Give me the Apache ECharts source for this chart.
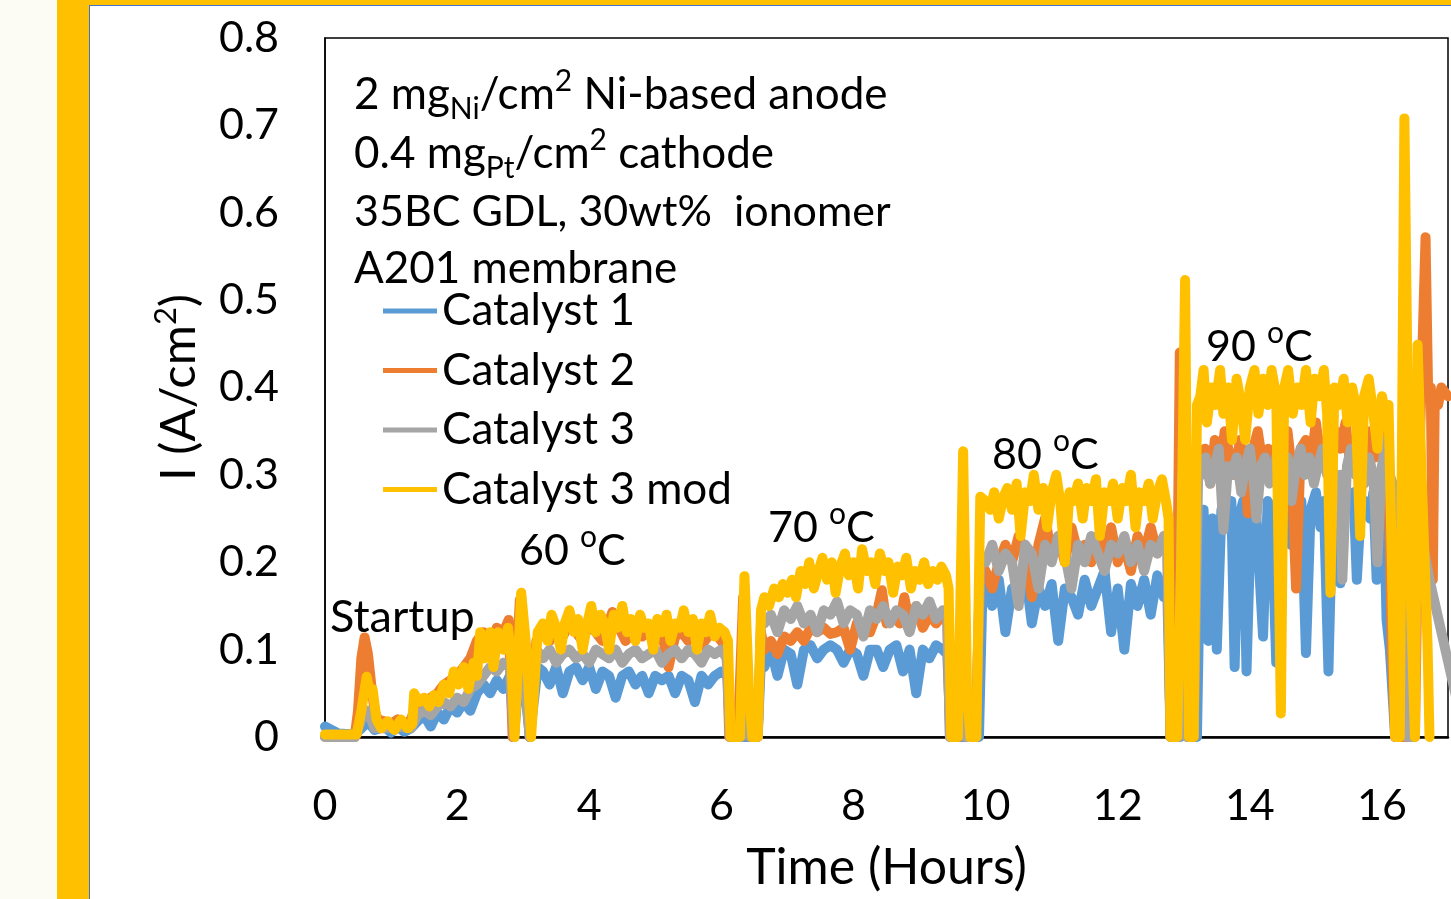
<!DOCTYPE html>
<html>
<head>
<meta charset="utf-8">
<script src="https://cdn.jsdelivr.net/npm/echarts@6/dist/echarts.min.js"></script>
<style>
  html, body { margin: 0; padding: 0; width: 1451px; height: 899px; overflow: hidden; background: #fcfbf4; }
  #frame { position: absolute; left: 57px; top: 0; width: 1394px; height: 899px; background: #ffc000; }
  #inner { position: absolute; left: 89px; top: 5px; width: 1362px; height: 894px; background: #fff; border-left: 1px solid #4472c4; border-top: 1px solid #4472c4; box-sizing: border-box; }
  #chart { position: absolute; left: 0; top: 0; width: 1451px; height: 899px; }
</style>
</head>
<body>
<div id="frame"></div>
<div id="inner"></div>
<div id="chart"></div>
<script>
const seriesNames = ['Catalyst 1', 'Catalyst 2', 'Catalyst 3', 'Catalyst 3 mod']
const seriesColors = ['#5b9bd5', '#ed7d31', '#a5a5a5', '#ffc000']

const infoLines = [
  '2 mg{sub|Ni}/cm{sup|2} Ni-based anode',
  '0.4 mg{sub|Pt}/cm{sup|2} cathode',
  '35BC GDL, 30wt%  ionomer',
  'A201 membrane',
]
const stageLabels = ['Startup', '60 {sup|o}C', '70 {sup|o}C', '80 {sup|o}C', '90 {sup|o}C']

// [hours, A/cm2]
const catalyst1 = [
  [0, 0.012], [0.1, 0.008], [0.2, 0.004], [0.45, 0.003], [0.55, 0.01], [0.65, 0.018], [0.75, 0.008], [0.9, 0.012],
  [1.0, 0.005], [1.1, 0.012], [1.2, 0.006], [1.3, 0.01], [1.4, 0.018], [1.5, 0.025], [1.6, 0.012], [1.7, 0.028],
  [1.8, 0.02], [1.9, 0.035], [2.0, 0.028], [2.1, 0.04], [2.2, 0.03], [2.3, 0.05], [2.4, 0.06], [2.5, 0.05],
  [2.6, 0.065], [2.7, 0.055], [2.8, 0.07], [2.86, 0], [2.97, 0.1], [3.1, 0], [3.22, 0.08],
  [3.3, 0.075], [3.4, 0.06], [3.5, 0.08], [3.6, 0.05], [3.7, 0.075], [3.8, 0.08], [3.9, 0.065], [4.0, 0.08],
  [4.1, 0.055], [4.2, 0.075], [4.3, 0.07], [4.4, 0.045], [4.5, 0.07], [4.6, 0.075], [4.7, 0.06], [4.8, 0.07],
  [4.9, 0.05], [5.0, 0.07], [5.1, 0.065], [5.2, 0.07], [5.3, 0.05], [5.4, 0.07], [5.5, 0.065], [5.6, 0.04],
  [5.7, 0.07], [5.8, 0.06], [5.9, 0.07], [6.0, 0.075], [6.1, 0.07], [6.15, 0], [6.55, 0], [6.6, 0.09],
  [6.65, 0.08], [6.75, 0.1], [6.85, 0.07], [6.95, 0.1], [7.05, 0.095], [7.15, 0.06], [7.25, 0.1], [7.35, 0.105],
  [7.45, 0.09], [7.55, 0.1], [7.65, 0.105], [7.75, 0.1], [7.85, 0.085], [7.95, 0.1], [8.05, 0.095], [8.15, 0.07],
  [8.25, 0.1], [8.35, 0.1], [8.45, 0.08], [8.55, 0.1], [8.65, 0.105], [8.75, 0.075], [8.85, 0.1], [8.95, 0.05],
  [9.05, 0.1], [9.15, 0.09], [9.25, 0.105], [9.35, 0.1], [9.42, 0.095], [9.47, 0], [9.7, 0], [9.75, 0.05],
  [9.8, 0], [9.9, 0], [9.95, 0.16],
  [10.0, 0.17], [10.1, 0.15], [10.2, 0.18], [10.3, 0.12], [10.4, 0.17], [10.5, 0.16], [10.6, 0.19], [10.7, 0.13],
  [10.8, 0.17], [10.9, 0.15], [11.0, 0.175], [11.1, 0.11], [11.2, 0.17], [11.3, 0.16], [11.4, 0.14], [11.5, 0.18],
  [11.6, 0.15], [11.7, 0.17], [11.8, 0.19], [11.9, 0.12], [12.0, 0.17], [12.1, 0.1], [12.2, 0.175], [12.3, 0.15],
  [12.4, 0.18], [12.5, 0.14], [12.6, 0.185], [12.7, 0.16], [12.75, 0.17], [12.8, 0], [12.95, 0], [13.0, 0.2],
  [13.08, 0], [13.2, 0], [13.25, 0.22],
  [13.3, 0.26], [13.37, 0.11], [13.43, 0.25], [13.5, 0.1], [13.57, 0.26], [13.65, 0.24], [13.72, 0.27], [13.77, 0.08],
  [13.83, 0.25], [13.9, 0.27], [13.95, 0.075], [14.02, 0.26], [14.1, 0.25], [14.2, 0.115], [14.27, 0.27], [14.33, 0.26],
  [14.4, 0.085], [14.47, 0.25], [14.55, 0.28], [14.62, 0.22], [14.7, 0.26], [14.78, 0.27], [14.85, 0.096], [14.92, 0.26],
  [15.0, 0.28], [15.07, 0.24], [15.12, 0.27], [15.19, 0.075], [15.25, 0.26], [15.3, 0.28], [15.37, 0.176], [15.43, 0.27],
  [15.5, 0.26], [15.57, 0.28], [15.62, 0.18], [15.68, 0.26], [15.75, 0.27], [15.82, 0.25], [15.87, 0.28], [15.92, 0.18],
  [15.98, 0.27], [16.03, 0.26], [16.07, 0.134], [16.12, 0.1], [16.2, 0], [16.45, 0],
]

const catalyst2 = [
  [0, 0], [0.45, 0], [0.5, 0.03], [0.55, 0.09], [0.6, 0.114], [0.65, 0.095], [0.7, 0.06], [0.75, 0.03],
  [0.8, 0.02], [0.9, 0.018], [1.0, 0.015], [1.1, 0.02], [1.2, 0.012], [1.3, 0.02], [1.4, 0.04], [1.5, 0.035],
  [1.6, 0.045], [1.7, 0.05], [1.8, 0.06], [1.9, 0.065], [2.0, 0.07], [2.1, 0.08], [2.2, 0.09], [2.3, 0.11],
  [2.4, 0.12], [2.5, 0.1], [2.6, 0.125], [2.7, 0.12], [2.78, 0.134], [2.84, 0], [2.95, 0.157], [3.1, 0], [3.2, 0.11],
  [3.3, 0.12], [3.4, 0.11], [3.5, 0.125], [3.6, 0.115], [3.7, 0.13], [3.8, 0.12], [3.9, 0.11], [4.0, 0.13],
  [4.1, 0.12], [4.2, 0.11], [4.35, 0.143], [4.45, 0.125], [4.55, 0.11], [4.7, 0.125], [4.8, 0.115], [4.9, 0.12],
  [5.0, 0.11], [5.1, 0.12], [5.2, 0.08], [5.3, 0.115], [5.4, 0.12], [5.5, 0.11], [5.6, 0.12], [5.7, 0.105],
  [5.8, 0.115], [5.9, 0.12], [6.0, 0.11], [6.08, 0.1], [6.12, 0], [6.25, 0], [6.33, 0.16], [6.43, 0], [6.55, 0], [6.6, 0.12],
  [6.65, 0.1], [6.75, 0.11], [6.85, 0.095], [6.95, 0.115], [7.05, 0.11], [7.15, 0.12], [7.25, 0.11], [7.35, 0.125],
  [7.45, 0.12], [7.55, 0.125], [7.65, 0.118], [7.75, 0.12], [7.85, 0.125], [7.95, 0.1], [8.05, 0.13], [8.15, 0.12],
  [8.25, 0.12], [8.35, 0.14], [8.43, 0.168], [8.5, 0.13], [8.6, 0.14], [8.7, 0.13], [8.77, 0.16], [8.85, 0.13],
  [8.95, 0.15], [9.05, 0.125], [9.15, 0.14], [9.25, 0.13], [9.35, 0.14], [9.42, 0.13], [9.46, 0], [9.6, 0],
  [9.65, 0.24], [9.72, 0], [9.85, 0], [9.92, 0.2],
  [10.0, 0.19], [10.1, 0.17], [10.2, 0.2], [10.3, 0.22], [10.4, 0.2], [10.5, 0.23], [10.6, 0.21], [10.7, 0.16],
  [10.8, 0.22], [10.9, 0.25], [11.0, 0.21], [11.1, 0.23], [11.2, 0.2], [11.3, 0.24], [11.4, 0.21], [11.5, 0.22],
  [11.6, 0.2], [11.7, 0.23], [11.8, 0.21], [11.9, 0.24], [12.0, 0.2], [12.1, 0.22], [12.2, 0.19], [12.3, 0.23],
  [12.4, 0.21], [12.5, 0.24], [12.6, 0.21], [12.7, 0.23], [12.75, 0.22], [12.8, 0], [12.88, 0], [12.94, 0.44],
  [13.0, 0.2], [13.05, 0], [13.15, 0], [13.2, 0.3],
  [13.25, 0.3], [13.32, 0.33], [13.4, 0.29], [13.47, 0.34], [13.55, 0.31], [13.62, 0.35], [13.7, 0.32], [13.77, 0.3],
  [13.85, 0.34], [13.92, 0.31], [13.97, 0.256], [14.05, 0.33], [14.12, 0.35], [14.2, 0.31], [14.28, 0.33], [14.35, 0.3],
  [14.42, 0.34], [14.5, 0.32], [14.57, 0.35], [14.63, 0.31], [14.7, 0.17], [14.77, 0.33], [14.85, 0.34], [14.92, 0.31],
  [15.0, 0.36], [15.07, 0.32], [15.15, 0.34], [15.22, 0.3], [15.3, 0.35], [15.37, 0.33], [15.45, 0.36], [15.52, 0.31],
  [15.6, 0.34], [15.67, 0.28], [15.75, 0.33], [15.82, 0.35], [15.9, 0.32], [15.97, 0.36], [16.05, 0.34], [16.1, 0.3],
  [16.15, 0.1], [16.2, 0], [16.5, 0], [16.56, 0.3], [16.66, 0.572], [16.7, 0.39], [16.74, 0.4], [16.77, 0.18],
  [16.8, 0.39], [16.85, 0.38], [16.9, 0.4], [17.0, 0.39],
]

const catalyst3 = [
  [0, 0], [0.45, 0], [0.55, 0.02], [0.65, 0.03], [0.75, 0.01], [0.9, 0.01], [1.1, 0.012], [1.3, 0.01],
  [1.4, 0.025], [1.5, 0.03], [1.6, 0.025], [1.7, 0.035], [1.8, 0.04], [1.9, 0.035], [2.0, 0.045], [2.1, 0.04],
  [2.2, 0.055], [2.3, 0.06], [2.4, 0.07], [2.5, 0.08], [2.6, 0.075], [2.7, 0.085], [2.8, 0.08], [2.86, 0],
  [2.96, 0.12], [3.1, 0], [3.2, 0.1],
  [3.3, 0.09], [3.4, 0.1], [3.5, 0.085], [3.6, 0.095], [3.7, 0.1], [3.8, 0.09], [3.9, 0.095], [4.0, 0.085],
  [4.1, 0.1], [4.2, 0.095], [4.3, 0.09], [4.4, 0.1], [4.5, 0.085], [4.6, 0.095], [4.7, 0.1], [4.8, 0.09],
  [4.9, 0.095], [5.0, 0.1], [5.1, 0.085], [5.2, 0.095], [5.3, 0.1], [5.4, 0.09], [5.5, 0.1], [5.6, 0.095],
  [5.7, 0.085], [5.8, 0.1], [5.9, 0.095], [6.0, 0.1], [6.08, 0.09], [6.13, 0], [6.3, 0], [6.36, 0.12],
  [6.44, 0], [6.55, 0], [6.6, 0.13],
  [6.65, 0.13], [6.75, 0.14], [6.85, 0.12], [6.95, 0.145], [7.05, 0.135], [7.15, 0.15], [7.25, 0.13], [7.35, 0.14],
  [7.45, 0.12], [7.55, 0.145], [7.65, 0.14], [7.75, 0.155], [7.85, 0.13], [7.95, 0.145], [8.05, 0.14], [8.15, 0.115],
  [8.25, 0.145], [8.35, 0.135], [8.45, 0.15], [8.55, 0.13], [8.65, 0.145], [8.75, 0.14], [8.85, 0.12], [8.95, 0.15],
  [9.05, 0.14], [9.15, 0.155], [9.25, 0.135], [9.35, 0.145], [9.42, 0.14], [9.46, 0], [9.58, 0], [9.63, 0.15],
  [9.7, 0], [9.85, 0], [9.92, 0.2],
  [10.0, 0.2], [10.1, 0.22], [10.2, 0.19], [10.3, 0.21], [10.4, 0.2], [10.5, 0.15], [10.6, 0.22], [10.7, 0.21],
  [10.8, 0.17], [10.9, 0.22], [11.0, 0.2], [11.1, 0.23], [11.2, 0.21], [11.3, 0.17], [11.4, 0.22], [11.5, 0.2],
  [11.6, 0.23], [11.7, 0.21], [11.8, 0.19], [11.9, 0.22], [12.0, 0.21], [12.1, 0.23], [12.2, 0.2], [12.3, 0.22],
  [12.4, 0.19], [12.5, 0.22], [12.6, 0.21], [12.7, 0.23], [12.75, 0.22], [12.8, 0], [12.92, 0], [12.98, 0.3],
  [13.05, 0], [13.15, 0], [13.22, 0.31],
  [13.27, 0.3], [13.33, 0.32], [13.4, 0.29], [13.47, 0.31], [13.53, 0.33], [13.6, 0.237], [13.67, 0.31], [13.73, 0.3],
  [13.8, 0.32], [13.87, 0.28], [13.93, 0.31], [14.0, 0.33], [14.05, 0.3], [14.1, 0.25], [14.17, 0.31], [14.23, 0.32],
  [14.3, 0.29], [14.37, 0.31], [14.43, 0.33], [14.5, 0.3], [14.57, 0.32], [14.63, 0.27], [14.7, 0.31], [14.77, 0.33],
  [14.83, 0.3], [14.9, 0.32], [14.97, 0.29], [15.03, 0.31], [15.1, 0.33], [15.17, 0.3], [15.23, 0.32], [15.3, 0.28],
  [15.37, 0.3], [15.4, 0.18], [15.47, 0.31], [15.53, 0.33], [15.6, 0.3], [15.67, 0.32], [15.73, 0.29], [15.8, 0.32],
  [15.87, 0.3], [15.93, 0.2], [16.0, 0.31], [16.07, 0.34], [16.12, 0.3], [16.2, 0.28], [16.3, 0.2], [16.37, 0],
  [16.45, 0], [16.55, 0.25], [16.72, 0.18], [17.26, 0],
]

const catalyst3mod = [
  [0, 0.003], [0.48, 0.003], [0.55, 0.03], [0.63, 0.069], [0.68, 0.05], [0.72, 0.055], [0.78, 0.02], [0.85, 0.01],
  [0.95, 0.018], [1.05, 0.008], [1.15, 0.02], [1.25, 0.01], [1.32, 0.015], [1.35, 0.05], [1.42, 0.04], [1.5, 0.045],
  [1.58, 0.035], [1.65, 0.048], [1.72, 0.04], [1.8, 0.06], [1.88, 0.05], [1.95, 0.075], [2.02, 0.06], [2.1, 0.08],
  [2.17, 0.055], [2.25, 0.085], [2.3, 0.07], [2.35, 0.12], [2.42, 0.09], [2.5, 0.12], [2.55, 0.08], [2.62, 0.12],
  [2.7, 0.1], [2.77, 0.125], [2.82, 0.09], [2.87, 0], [2.97, 0.165], [3.05, 0.1], [3.12, 0], [3.22, 0.12],
  [3.3, 0.13], [3.37, 0.11], [3.43, 0.14], [3.5, 0.125], [3.57, 0.1], [3.63, 0.13], [3.7, 0.145], [3.77, 0.12],
  [3.83, 0.135], [3.9, 0.1], [3.97, 0.13], [4.03, 0.15], [4.1, 0.12], [4.17, 0.14], [4.23, 0.13], [4.3, 0.1],
  [4.37, 0.14], [4.43, 0.125], [4.5, 0.15], [4.57, 0.12], [4.63, 0.135], [4.7, 0.11], [4.77, 0.14], [4.83, 0.125],
  [4.9, 0.13], [4.97, 0.1], [5.03, 0.135], [5.1, 0.12], [5.17, 0.14], [5.23, 0.11], [5.3, 0.13], [5.37, 0.125],
  [5.43, 0.145], [5.5, 0.12], [5.57, 0.135], [5.63, 0.1], [5.7, 0.13], [5.77, 0.12], [5.83, 0.14], [5.9, 0.115],
  [5.97, 0.125], [6.05, 0.12], [6.1, 0.11], [6.14, 0], [6.28, 0], [6.35, 0.184], [6.42, 0.05], [6.47, 0],
  [6.55, 0], [6.6, 0.145],
  [6.65, 0.16], [6.72, 0.15], [6.8, 0.17], [6.87, 0.16], [6.93, 0.175], [7.0, 0.165], [7.07, 0.18], [7.13, 0.16],
  [7.2, 0.19], [7.27, 0.175], [7.33, 0.2], [7.4, 0.17], [7.47, 0.19], [7.53, 0.205], [7.6, 0.18], [7.67, 0.2],
  [7.73, 0.165], [7.8, 0.195], [7.87, 0.21], [7.93, 0.185], [8.0, 0.2], [8.07, 0.17], [8.13, 0.215], [8.2, 0.19],
  [8.27, 0.2], [8.33, 0.175], [8.4, 0.21], [8.47, 0.19], [8.53, 0.2], [8.6, 0.165], [8.67, 0.195], [8.73, 0.185],
  [8.8, 0.205], [8.87, 0.17], [8.93, 0.19], [9.0, 0.18], [9.07, 0.2], [9.13, 0.175], [9.2, 0.19], [9.27, 0.18],
  [9.33, 0.195], [9.4, 0.185], [9.44, 0.17], [9.48, 0], [9.58, 0], [9.66, 0.327], [9.72, 0.05], [9.77, 0],
  [9.86, 0], [9.92, 0.275],
  [10.0, 0.27], [10.07, 0.26], [10.13, 0.28], [10.2, 0.25], [10.27, 0.275], [10.33, 0.285], [10.4, 0.26], [10.47, 0.29],
  [10.53, 0.23], [10.6, 0.28], [10.67, 0.27], [10.73, 0.3], [10.8, 0.26], [10.87, 0.285], [10.93, 0.24], [11.0, 0.28],
  [11.07, 0.3], [11.13, 0.27], [11.2, 0.2], [11.27, 0.28], [11.33, 0.27], [11.4, 0.29], [11.47, 0.25], [11.53, 0.285],
  [11.6, 0.27], [11.67, 0.295], [11.73, 0.23], [11.8, 0.28], [11.87, 0.27], [11.93, 0.29], [12.0, 0.25], [12.07, 0.285],
  [12.13, 0.27], [12.2, 0.3], [12.27, 0.24], [12.33, 0.28], [12.4, 0.27], [12.47, 0.29], [12.53, 0.25], [12.6, 0.28],
  [12.67, 0.295], [12.73, 0.27], [12.77, 0.25], [12.8, 0], [12.9, 0], [12.96, 0.2], [13.02, 0.523], [13.08, 0],
  [13.15, 0], [13.2, 0.38],
  [13.25, 0.39], [13.3, 0.42], [13.35, 0.36], [13.42, 0.4], [13.48, 0.38], [13.55, 0.42], [13.6, 0.37], [13.67, 0.4],
  [13.73, 0.34], [13.8, 0.41], [13.87, 0.38], [13.93, 0.34], [14.0, 0.4], [14.07, 0.42], [14.13, 0.37], [14.2, 0.41],
  [14.27, 0.38], [14.33, 0.42], [14.4, 0.39], [14.47, 0.027], [14.52, 0.4], [14.58, 0.42], [14.65, 0.37], [14.72, 0.4],
  [14.78, 0.38], [14.85, 0.42], [14.92, 0.36], [14.98, 0.41], [15.05, 0.39], [15.12, 0.42], [15.17, 0.37], [15.22, 0.165],
  [15.28, 0.4], [15.35, 0.38], [15.42, 0.41], [15.48, 0.36], [15.55, 0.4], [15.6, 0.38], [15.67, 0.23], [15.73, 0.39],
  [15.8, 0.41], [15.87, 0.37], [15.93, 0.33], [16.0, 0.39], [16.05, 0.37], [16.1, 0.38], [16.15, 0.2], [16.2, 0],
  [16.27, 0], [16.34, 0.708], [16.42, 0.2], [16.5, 0], [16.54, 0.449], [16.6, 0.3], [16.69, 0.107], [16.72, 0],
]

const seriesData = [catalyst1, catalyst2, catalyst3, catalyst3mod]

const font = 'Lato'
const textRich = {
  sub: { fontFamily: font, fontSize: 30, lineHeight: 24, verticalAlign: 'bottom', fill: '#000' },
  sup: { fontFamily: font, fontSize: 30, lineHeight: 40, verticalAlign: 'top', fill: '#000' },
}
const labelText = (text, x, y, size) => ({
  type: 'text',
  x,
  y,
  silent: true,
  style: {
    text,
    fontFamily: font,
    fontSize: size,
    lineHeight: 58,
    fill: '#000',
    align: 'left',
    verticalAlign: 'middle',
    rich: textRich,
  },
})

const chart = echarts.init(document.getElementById('chart'))
chart.setOption({
  backgroundColor: 'transparent',
  animation: false,
  grid: { left: 325, top: 38, right: -8, bottom: 162, show: true, borderColor: '#000', borderWidth: 1.5 },
  legend: {
    data: seriesNames,
    orient: 'vertical',
    left: 383,
    top: 288,
    padding: 0,
    icon: 'rect',
    itemWidth: 54,
    itemHeight: 5,
    itemGap: 13.5,
    textStyle: { fontFamily: font, fontSize: 44, color: '#000', lineHeight: 46 },
  },
  xAxis: {
    type: 'value',
    min: 0,
    max: 17,
    interval: 2,
    name: 'Time (Hours)',
    nameLocation: 'middle',
    nameGap: 106,
    nameTextStyle: { fontFamily: font, fontSize: 50, color: '#000' },
    axisLine: { show: true, lineStyle: { color: '#000', width: 2.5 } },
    axisTick: { show: false },
    splitLine: { show: false },
    axisLabel: {
      margin: 48,
      fontFamily: font,
      fontSize: 43,
      color: '#000',
      formatter: (v) => (v % 2 === 0 ? String(v) : ''),
    },
  },
  yAxis: {
    type: 'value',
    min: 0,
    max: 0.8,
    interval: 0.1,
    name: 'I (A/cm{sup|2})',
    nameLocation: 'middle',
    nameGap: 115,
    nameTextStyle: {
      fontFamily: font,
      fontSize: 49,
      lineHeight: 58,
      color: '#000',
      rich: { sup: { fontFamily: font, fontSize: 31, color: '#000', lineHeight: 42, verticalAlign: 'top' } },
    },
    axisLine: { show: true, lineStyle: { color: '#000', width: 1.5 } },
    axisTick: { show: false },
    splitLine: { show: false },
    axisLabel: {
      margin: 46,
      fontFamily: font,
      fontSize: 43,
      color: '#000',
      formatter: (v) => (v === 0 ? '0' : v.toFixed(1)),
    },
  },
  series: seriesData.map((data, i) => ({
    type: 'line',
    name: seriesNames[i],
    data,
    symbol: 'none',
    lineStyle: { color: seriesColors[i], width: 10, cap: 'round', join: 'round' },
    itemStyle: { color: seriesColors[i] },
  })),
  graphic: [
    labelText(infoLines[0], 354, 95, 44),
    labelText(infoLines[1], 354, 154, 44),
    labelText(infoLines[2], 354, 212, 43),
    labelText(infoLines[3], 354, 269, 44),
    labelText(stageLabels[0], 330, 617, 45),
    labelText(stageLabels[1], 519, 551, 43),
    labelText(stageLabels[2], 768, 528, 43),
    labelText(stageLabels[3], 992, 455, 43),
    labelText(stageLabels[4], 1206, 347, 43),
  ],
})
</script>
</body>
</html>
